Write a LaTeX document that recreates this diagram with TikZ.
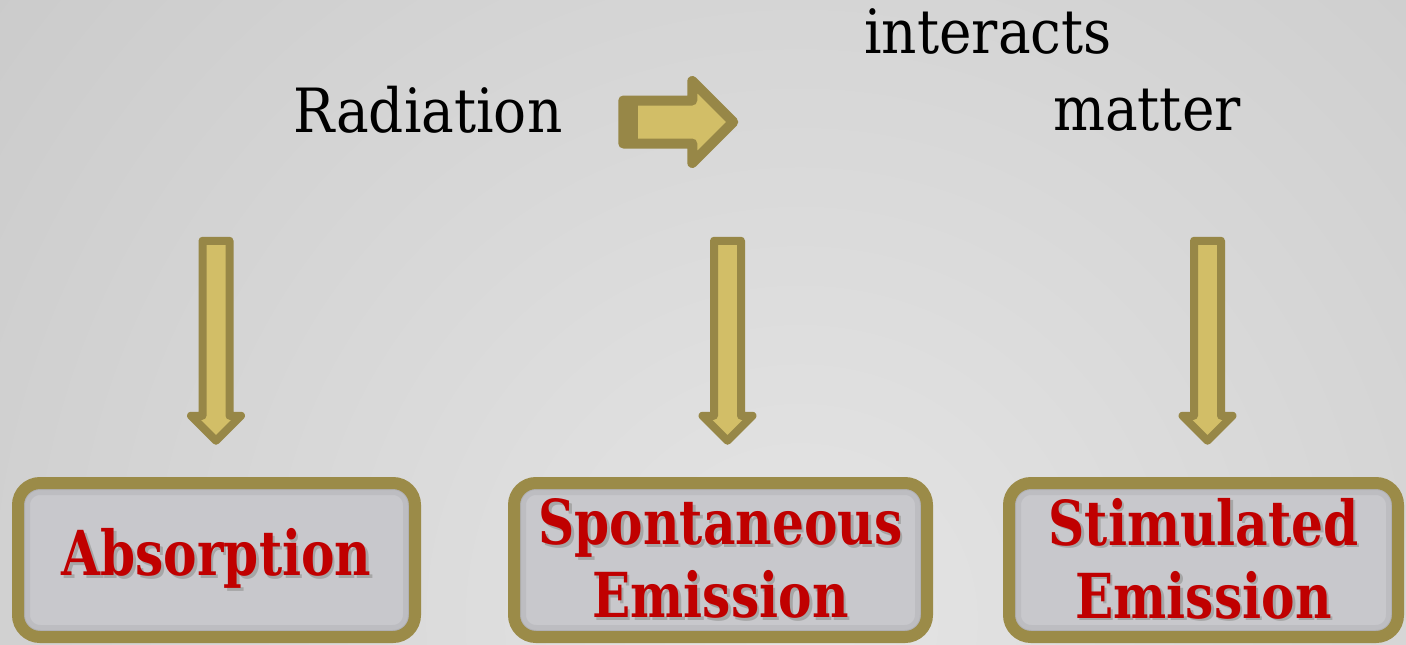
\documentclass[tikz,border=0pt]{standalone}
\usepackage{fontspec}
\setmainfont{DejaVu Serif Condensed}
\newfontfamily\boxfont[FakeStretch=0.9]{DejaVu Serif Condensed Bold}
\usepackage{tikz}
\usetikzlibrary{shapes.arrows, positioning}
\definecolor{bglight}{HTML}{E5E5E5}
\definecolor{bgdark}{HTML}{C4C4C4}
\definecolor{oline}{HTML}{978747}
\definecolor{ofill}{HTML}{D2BE67}
\definecolor{boxfill}{HTML}{C8C8CC}
\definecolor{boxline}{HTML}{9B8B48}
\definecolor{ered}{HTML}{C00000}
\newcommand\shd[1]{\leavevmode\rlap{\kern2.5pt\raisebox{-2.5pt}{\textcolor{black!35}{#1}}}#1}

\begin{document}
\begin{tikzpicture}[
    x=1pt, y=-1pt,
    word/.style={anchor=base, font=\fontsize{61}{70}\selectfont, text=black},
    dnarrow/.style={single arrow, rotate=-90, draw=oline, fill=ofill, line width=8pt,
                    line join=round, inner xsep=0pt, inner ysep=9.5pt, minimum height=200pt,
                    single arrow head extend=11.5pt},
    box/.style={draw=boxline, fill=boxfill, line width=12pt, rounded corners=22pt,
                minimum height=154pt, inner sep=0pt, align=center, text=ered,
                font=\boxfont\fontsize{62}{73}\selectfont,
                path picture={
                  \foreach \w/\o in {24/0.05, 14/0.06, 6/0.07}
                    \draw[line width=\w pt, black, opacity=\o, rounded corners=22pt]
                      (path picture bounding box.south west) rectangle
                      (path picture bounding box.north east);
                }},
  ]

  % background
  \useasboundingbox (0,0) rectangle (1406,645);
  \begin{scope}
    \clip (0,0) rectangle (1406,645);
    \shade[inner color=bglight, outer color=bgdark] (800,620) circle (1300);
  \end{scope}

  \node[word] (rad) at (428,132) {Radiation};
  \node[word] (inter) at (988,53) {interacts};
  \node[word] (mat) at (1147,130) {matter};

  \node[single arrow, draw=oline, fill=ofill, line width=10pt, line join=round,
        inner xsep=0pt, inner ysep=16.5pt, minimum height=110pt,
        single arrow head extend=19.5pt,
        path picture={\fill[oline] (path picture bounding box.south west)
          rectangle ([xshift=15pt]path picture bounding box.north west);}]
        (rarr) at (667.5,122) {};

  \node[dnarrow] (arr1) at (216,334) {};
  \node[dnarrow] (arr2) at (727.5,334) {};
  \node[dnarrow] (arr3) at (1207.5,334) {};

  \node[box, minimum width=397pt] (abs) at (216.5,560) {\shd{Absorption}};
  \node[box, minimum width=413pt] (spon) at (720.5,560) {\shd{Spontaneous}\\\shd{Emission}};
  \node[box, minimum width=389pt] (stim) at (1203.5,560) {\shd{Stimulated}\\\shd{Emission}};

\end{tikzpicture}
\end{document}
